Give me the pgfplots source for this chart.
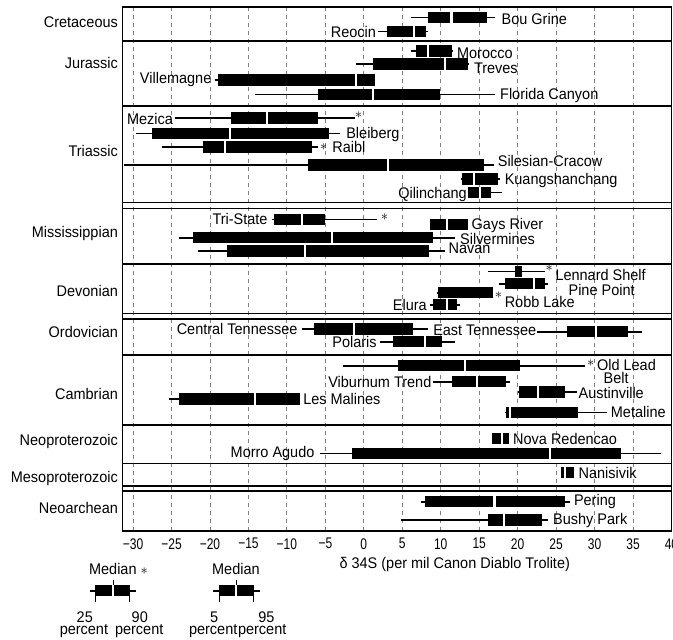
\documentclass[border=0pt]{standalone}
\usepackage{fontspec}
\setmainfont{Liberation Sans}[FakeStretch=0.94]
\newfontfamily\condfont{Liberation Sans}[FakeStretch=0.78]
\usepackage{pgfplots}
\pgfplotsset{compat=1.18}
% y, lo, hi, q1, q3, median
\newcommand{\dep}[6]{%
 \addplot[black, line width=11.5pt, forget plot] coordinates {(#4,#1) (#5,#1)};
 \addplot[only marks, mark=|, mark size=6pt, white, mark options={line width=2.2pt}, forget plot] coordinates {(#6,#1)};
 \addplot[black, line width=1.6pt, forget plot] coordinates {(#2,#1) (#3,#1)};}
% y, q1, q3, median (no whisker)
\newcommand{\depb}[4]{%
 \addplot[black, line width=11.5pt, forget plot] coordinates {(#2,#1) (#3,#1)};
 \addplot[only marks, mark=|, mark size=6pt, white, mark options={line width=2.2pt}, forget plot] coordinates {(#4,#1)};}
% y, lo, hi, q1, q3 (no median gap)
\newcommand{\depn}[5]{%
 \addplot[black, line width=11.5pt, forget plot] coordinates {(#4,#1) (#5,#1)};
 \addplot[black, line width=1.6pt, forget plot] coordinates {(#2,#1) (#3,#1)};}
\newcommand{\sep}[1]{\addplot[black, line width=1.4pt, forget plot] coordinates {(-31.4,#1) (40,#1)};}
\newcommand{\labW}[3]{\node[anchor=base west, inner sep=0, yshift=-5.5pt] at (axis cs:#1,#2) {#3};}
\newcommand{\labE}[3]{\node[anchor=base east, inner sep=0, yshift=-5.5pt] at (axis cs:#1,#2) {#3};}
\newcommand{\labC}[3]{\node[anchor=base, inner sep=0, yshift=-5.5pt] at (axis cs:#1,#2) {#3};}
\newcommand{\astk}[2]{\node[inner sep=0] at (axis cs:#1,#2) {$\ast$};}
\begin{document}
\fontsize{15.4pt}{18pt}\selectfont
\begin{tikzpicture}
\useasboundingbox (0,0) rectangle (673pt,-640pt);
\begin{axis}[
  at={(122.3pt,-7pt)}, anchor=north west,
  scale only axis, width=549.2pt, height=524pt,
  xmin=-31.4, xmax=40, ymin=7, ymax=531, y dir=reverse,
  clip=false,
  axis line style={line width=1.4pt},
  ytick=\empty,
  xtick={-30,-25,...,40},
  xticklabels={−30,−25,−20,−15,−10,−5,0,5,10,15,20,25,30,35,40},
  xticklabel style={font=\condfont, yshift=-2pt},
  major tick length=0pt,
  xmajorgrids,
  major grid style={gray, dash pattern=on 4pt off 4pt, line width=0.9pt},
]
% separators
\sep{41}\sep{106}\sep{202.3}\sep{208.3}\sep{264}\sep{313.3}\sep{319}
\sep{355}\sep{425}\sep{463.3}\sep{486}\sep{491}
% Cretaceous
\dep{17.5}{6.1}{17.0}{8.4}{16.0}{11.4}
\dep{31.5}{1.85}{8.35}{2.95}{8.05}{6.5}
% Jurassic
\dep{51}{6.1}{11.6}{6.8}{11.4}{8.3}
\dep{64}{-1.0}{13.7}{1.2}{13.5}{10.6}
\dep{80}{-19.4}{1.4}{-19.0}{1.4}{-1.0}
\dep{94.3}{-14.2}{17.1}{-6.0}{9.9}{1.2}
% Triassic
\dep{118}{-24.6}{-1.2}{-17.25}{-5.9}{-12.55}
\dep{133.3}{-29.6}{-3.1}{-27.6}{-4.5}{-17.4}
\dep{147}{-26.2}{-6.0}{-20.95}{-6.8}{-18.0}
\dep{165}{-31.2}{16.9}{-7.2}{15.6}{3.1}
\dep{179}{12.6}{17.7}{12.7}{17.5}{14.3}
\dep{192.5}{13.5}{18.0}{13.5}{16.5}{15.1}
% Mississippian
\dep{219.3}{-11.9}{1.7}{-11.7}{-5.0}{-8.0}
\depb{224.3}{8.6}{13.6}{10.8}
\dep{237.7}{-24.0}{11.9}{-22.2}{9.0}{-4.1}
\dep{251}{-21.6}{10.5}{-17.8}{8.5}{-7.6}
% Devonian
\depn{271.3}{16.2}{23.6}{19.6}{20.5}
\dep{283.7}{17.6}{24.0}{18.3}{23.5}{22.1}
\depn{292.7}{9.5}{16.8}{9.7}{16.8}
\dep{304.7}{8.6}{12.5}{9.0}{12.1}{10.8}
% Ordovician
\dep{329}{-8.1}{8.4}{-6.5}{6.4}{-1.3}
\dep{331.7}{22.5}{36.2}{26.4}{34.4}{30.2}
\dep{341.7}{2.1}{11.9}{3.8}{10.1}{8.0}
% Cambrian
\dep{365.7}{-2.7}{28.8}{4.4}{20.3}{13.2}
\dep{381.7}{9.0}{19.0}{11.4}{18.5}{14.7}
\dep{392}{20.0}{27.7}{20.2}{26.2}{22.6}
\dep{399}{-25.3}{-8.3}{-24.0}{-8.3}{-14.1}
\dep{412.3}{18.4}{31.6}{18.5}{27.9}{19.0}
% Neoproterozoic
\depb{438.3}{16.6}{18.9}{18.0}
\dep{453.3}{-5.7}{38.6}{-1.5}{33.4}{24.2}
% Mesoproterozoic
\depb{472.7}{25.6}{27.3}{26.2}
% Neoarchean
\dep{501.7}{7.4}{26.8}{7.9}{26.1}{17.0}
\dep{520}{4.8}{24.0}{16.1}{23.2}{18.2}
% asterisks
\astk{-0.7}{115}\astk{-5.2}{147.5}\astk{2.7}{216.7}\astk{24.1}{268}
\astk{17.5}{295.3}\astk{29.5}{363.3}
% deposit labels
\labW{17.9}{18.5}{Bou Grine}
\labE{1.6}{32}{Reocin}
\labW{12.1}{52.5}{Morocco}
\labW{14.3}{68}{Treves}
\labE{-19.8}{77.5}{Villemagne}
\labW{17.7}{94.3}{Florida Canyon}
\labE{-24.8}{119}{Mezica}
\labW{-2.3}{133.3}{Bleiberg}
\labW{-4.1}{146.5}{Raibl}
\labW{17.4}{161}{Silesian-Cracow}
\labW{18.3}{179}{Kuangshanchang}
\labE{13.4}{192.7}{Qilinchang}
\labE{-12.5}{219.3}{Tri-State}
\labW{14.0}{224.3}{Gays River}
\labW{12.5}{239}{Silvermines}
\labW{11.0}{248.3}{Navan}
\labW{24.9}{275}{Lennard Shelf}
\labW{26.6}{290}{Pine Point}
\labW{18.3}{302}{Robb Lake}
\labE{8.2}{304.5}{Elura}
\labE{-8.6}{329}{Central Tennessee}
\labW{9.0}{330}{East Tennessee}
\labE{1.7}{341.7}{Polaris}
\labW{30.3}{365}{Old Lead}
\labC{32.8}{378.3}{Belt}
\labE{8.8}{381.7}{Viburnum Trend}
\labW{27.9}{392.7}{Austinville}
\labW{-7.9}{399}{Les Malines}
\labW{32.1}{412.3}{Metaline}
\labW{19.4}{439.3}{Nova Redencao}
\labE{-6.4}{451.7}{Morro Agudo}
\labW{27.9}{473.3}{Nanisivik}
\labW{27.3}{500}{Pering}
\labW{24.6}{519}{Bushy Park}
% group labels
\labE{-31.95}{21.7}{Cretaceous}
\labE{-31.95}{63.3}{Jurassic}
\labE{-31.95}{150.7}{Triassic}
\labE{-31.95}{231.7}{Mississippian}
\labE{-31.95}{290.7}{Devonian}
\labE{-31.95}{331.7}{Ordovician}
\labE{-31.95}{394}{Cambrian}
\labE{-31.95}{440}{Neoproterozoic}
\labE{-31.95}{476.7}{Mesoproterozoic}
\labE{-31.95}{508.3}{Neoarchean}
% x label
\labC{11.82}{563.3}{δ 34S (per mil Canon Diablo Trolite)}
% key 1
\addplot[black, line width=10.5pt, forget plot] coordinates {(-34.89,590.7) (-30.43,590.7)};
\addplot[only marks, mark=|, mark size=5.5pt, white, mark options={line width=2pt}, forget plot] coordinates {(-32.6,590.7)};
\addplot[black, line width=1.6pt, forget plot] coordinates {(-35.54,590.7) (-29.56,590.7)};
\addplot[black, line width=1pt, forget plot] coordinates {(-32.6,579.5) (-32.6,585.5)};
\addplot[black, line width=1pt, forget plot] coordinates {(-34.89,596) (-34.89,602)};
\addplot[black, line width=1pt, forget plot] coordinates {(-30.43,596) (-30.43,602)};
\labC{-31.9}{569.3}{Median $\ast$}
\labC{-36.28}{616.7}{25}
\labC{-29.13}{616.7}{90}
\labC{-36.39}{629.3}{percent}
\labC{-29.2}{629.3}{percent}
% key 2
\addplot[black, line width=10.5pt, forget plot] coordinates {(-18.86,590.7) (-14.31,590.7)};
\addplot[only marks, mark=|, mark size=5.5pt, white, mark options={line width=2pt}, forget plot] coordinates {(-16.56,590.7)};
\addplot[black, line width=1.6pt, forget plot] coordinates {(-19.6,590.7) (-13.53,590.7)};
\addplot[black, line width=1pt, forget plot] coordinates {(-16.56,579.5) (-16.56,585.5)};
\addplot[black, line width=1pt, forget plot] coordinates {(-18.73,596) (-18.73,602)};
\addplot[black, line width=1pt, forget plot] coordinates {(-14.4,596) (-14.4,602)};
\labC{-16.63}{569.3}{Median}
\labC{-19.47}{616.7}{5}
\labC{-12.66}{616.7}{95}
\labC{-19.58}{629.3}{percent}
\labC{-13.21}{629.3}{percent}
\end{axis}
\end{tikzpicture}
\end{document}
